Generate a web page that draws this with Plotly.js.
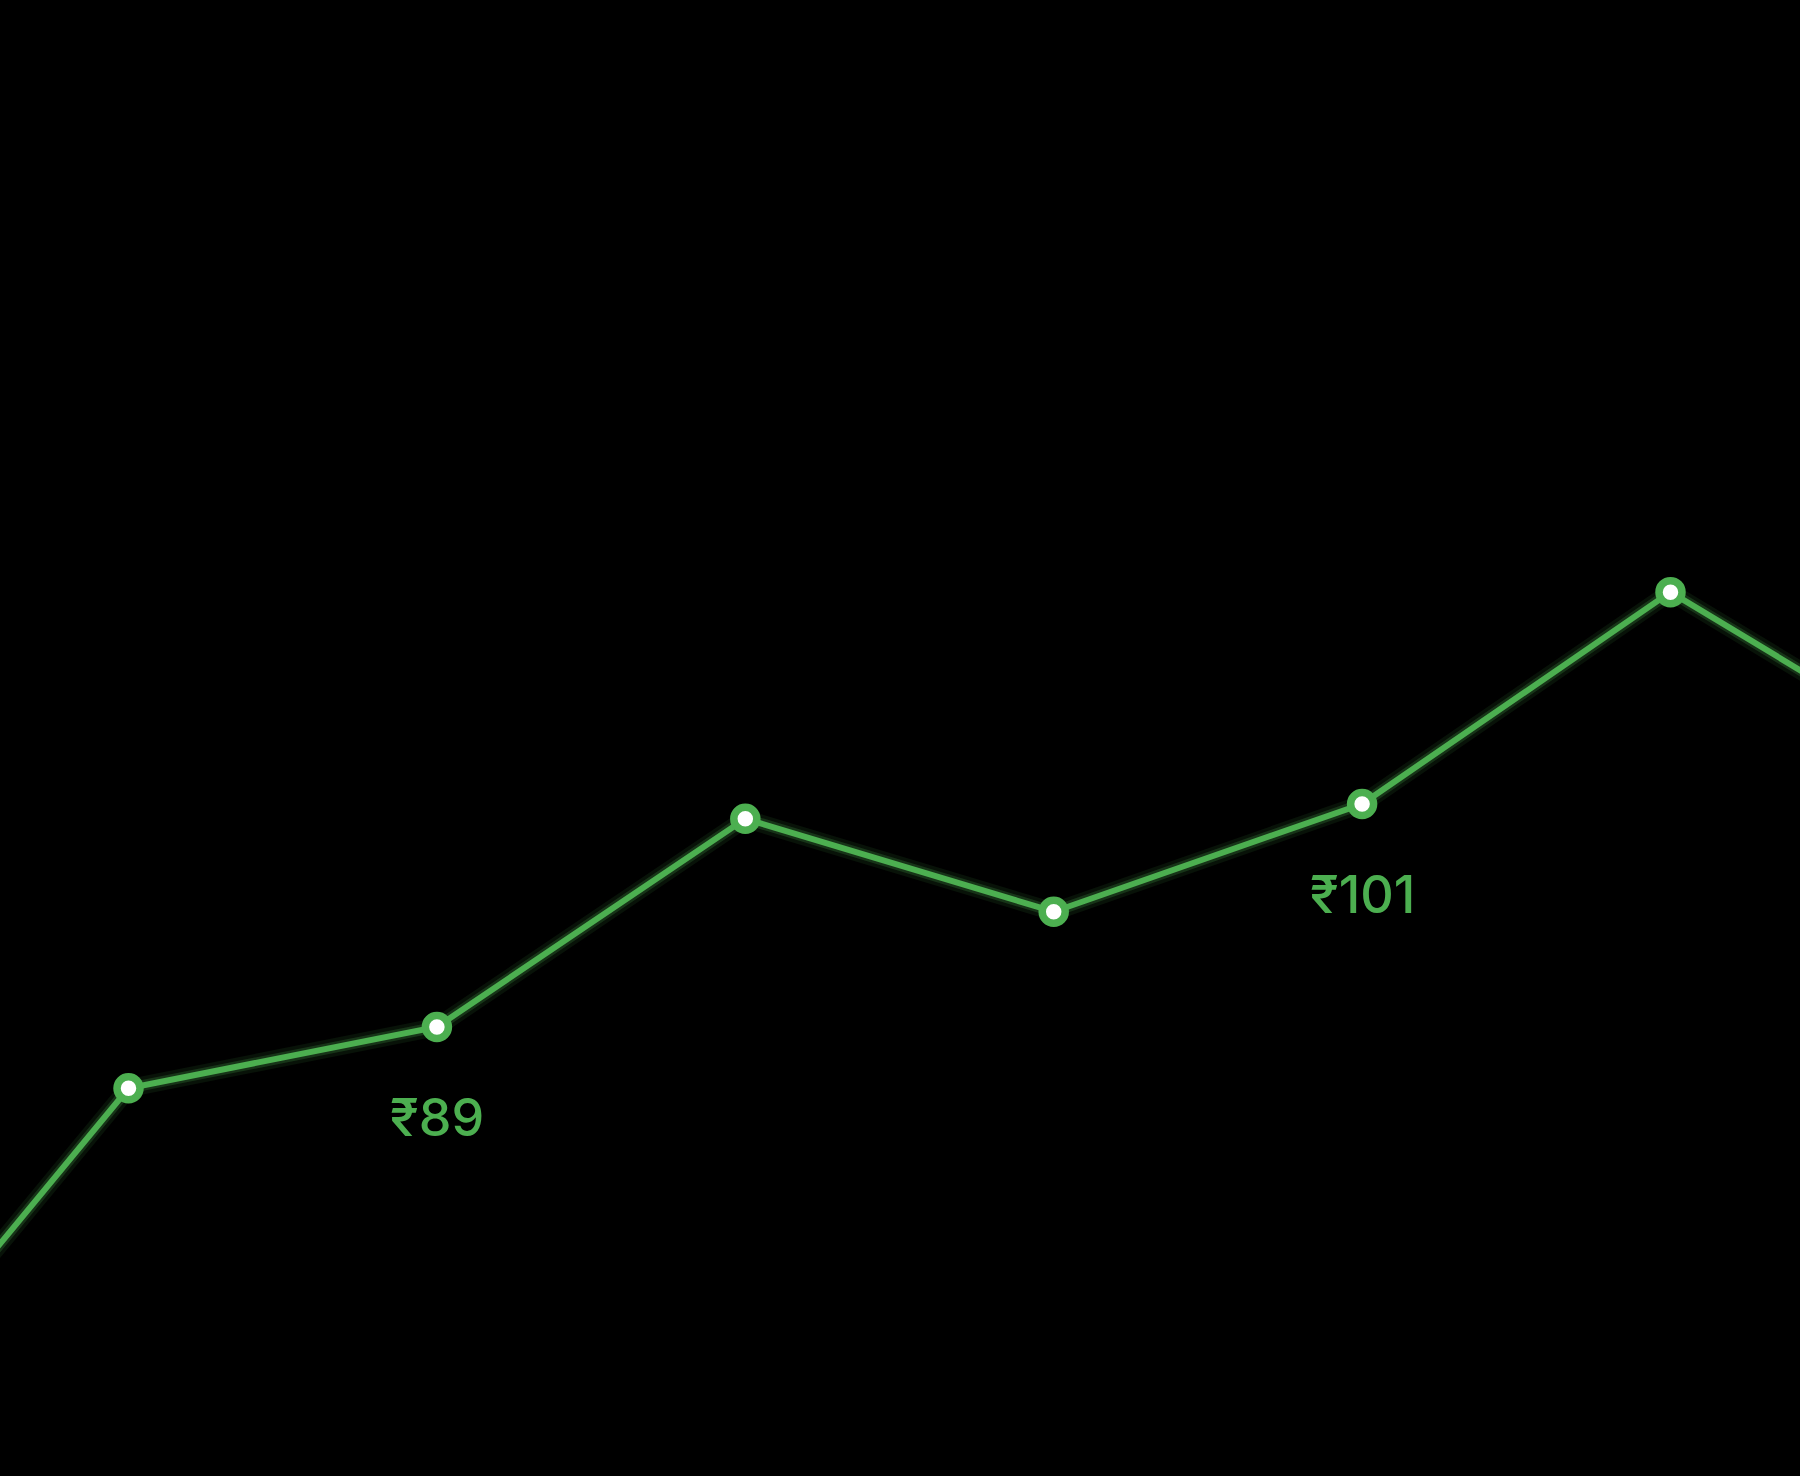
<!DOCTYPE html>
<html>
<head>
<meta charset="utf-8">
<script src="https://cdn.plot.ly/plotly-3.0.1.min.js"></script>
<style>
  html, body { margin: 0; padding: 0; background: #000; }
  #chart { width: 1800px; height: 1476px; }
</style>
</head>
<body>
<div id="chart"></div>
<script>
// price points, only part of the series is in view
const steps = [0, 1, 2, 3, 4, 5, 6, 7];
const prices = [65.6, 85.7, 89, 100.2, 95.2, 101, 112.4, 102.4];
const labelSteps = [2, 5];

const green = '#4caf50';

function rupee(v) {
  return '₹' + Math.round(v);
}

// soft glow under the line
let glowWide = {
  x: steps,
  y: prices,
  mode: 'lines',
  type: 'scatter',
  hoverinfo: 'skip',
  line: {color: 'rgba(76,175,80,0.10)', width: 18},
};
let glowNarrow = {
  x: steps,
  y: prices,
  mode: 'lines',
  type: 'scatter',
  hoverinfo: 'skip',
  line: {color: 'rgba(76,175,80,0.22)', width: 11},
};
let priceLine = {
  x: steps,
  y: prices,
  mode: 'lines+markers',
  type: 'scatter',
  hovertemplate: '₹%{y:.0f}<extra></extra>',
  line: {color: green, width: 6},
  marker: {
    size: 23,
    color: '#ffffff',
    line: {color: green, width: 7.5}
  }
};

let notes = labelSteps.map(i => ({
  x: steps[i],
  y: prices[i],
  text: rupee(prices[i]),
  showarrow: false,
  xanchor: 'center',
  yanchor: 'middle',
  yshift: -91,
  font: {family: 'Inter, "Noto Sans", "DejaVu Sans", sans-serif', size: 52, weight: 500, color: green}
}));

let layout = {
  width: 1800,
  height: 1476,
  margin: {l: 0, r: 0, t: 0, b: 0},
  paper_bgcolor: '#000000',
  plot_bgcolor: '#000000',
  showlegend: false,
  xaxis: {range: [0.5833, 6.4199], visible: false, fixedrange: true},
  yaxis: {range: [64.83, 144.27], visible: false, fixedrange: true},
  annotations: notes,
};

Plotly.newPlot('chart', [glowWide, glowNarrow, priceLine], layout, {displayModeBar: false, staticPlot: true});
</script>
</body>
</html>
